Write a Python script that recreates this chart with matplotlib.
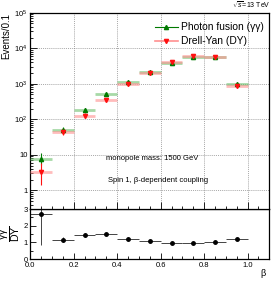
import numpy as np
import matplotlib
matplotlib.use("Agg")
import matplotlib.pyplot as plt
from matplotlib.ticker import FixedLocator, MultipleLocator, NullFormatter
from matplotlib.lines import Line2D

plt.rcParams['font.family'] = ['Liberation Sans', 'DejaVu Sans']
plt.rcParams['mathtext.fontset'] = 'custom'
plt.rcParams['mathtext.rm'] = 'Liberation Sans'
plt.rcParams['mathtext.it'] = 'Liberation Sans:italic'

beta = [0.05, 0.15, 0.25, 0.35, 0.45, 0.55, 0.65, 0.75, 0.85, 0.95]
gg = [7.9, 49, 180, 500, 1100, 2200, 3940, 5600, 5500, 1000]
gg_lo = [2.8, 9, 20, 40, 60, 90, 120, 150, 150, 60]
gg_hi = [3.3, 12, 24, 45, 65, 95, 125, 160, 160, 65]
dy = [3.2, 44, 128, 350, 960, 2000, 4000, 6000, 5500, 850]
dy_lo = [1.8, 8, 16, 32, 55, 80, 120, 150, 150, 55]
dy_hi = [2.6, 10, 19, 36, 60, 85, 125, 160, 160, 60]
ratio = [2.73, 1.16, 1.45, 1.51, 1.2, 1.10, 0.98, 0.94, 1.0, 1.18]
ratio_err = [1.9, 0.15, 0.1, 0.08, 0.06, 0.05, 0.04, 0.04, 0.04, 0.06]
half_width = 0.05

W, H = 274, 282
fig = plt.figure(figsize=(W/100, H/100), dpi=100)
L, R = 30.3/W, 269.3/W
axr = fig.add_axes([L, 1-259/H, R-L, (259-209)/H])
ax = fig.add_axes([L, 1-209/H, R-L, (209-12.7)/H])

gcol, gband = '#007a00', '#6cc06c'
rcol, rband = '#ff1010', '#ff9090'

# main panel
for y, lo, hi, col, band, mk in [(gg, gg_lo, gg_hi, gcol, gband, '^'),
                                  (dy, dy_lo, dy_hi, rcol, rband, 'v')]:
    ax.errorbar(beta, y, xerr=half_width, fmt='none', ecolor=band, elinewidth=2.0,
                alpha=0.6, capsize=0, zorder=3)
    ax.errorbar(beta, y, yerr=[lo, hi], fmt=mk, color=col, ms=3, elinewidth=0.8,
                capsize=0, zorder=4)

ax.set_yscale('log')
ax.set_xlim(0, 1.1)
ax.set_ylim(0.3, 1e5)
ax.yaxis.set_major_locator(FixedLocator([1, 10, 100, 1e3, 1e4, 1e5]))
ax.set_yticklabels(['1', '10', r'$10^2$', r'$10^3$', r'$10^4$', r'$10^5$'])
ax.yaxis.set_minor_locator(FixedLocator([m*10**e for e in range(-1, 5) for m in range(2, 10)]))
ax.yaxis.set_minor_formatter(NullFormatter())
ax.xaxis.set_major_locator(MultipleLocator(0.2))
ax.xaxis.set_minor_locator(MultipleLocator(0.05))
ax.tick_params(axis='both', which='both', direction='in', labelsize=5.5, width=0.6, pad=2)
ax.tick_params(which='major', length=5)
ax.tick_params(which='minor', length=2.5)
ax.tick_params(axis='x', labelbottom=False)
ax.grid(True, which='major', linestyle=(0, (1.5, 1.5)), color='#888888', linewidth=0.5)
ax.set_axisbelow(True)
ax.set_ylabel('Events/0.1', fontsize=7, loc='top', labelpad=2)
for s in ax.spines.values():
    s.set_linewidth(0.9)

# legend
h1 = Line2D([], [], color=gcol, marker='^', ms=3, lw=0.8)
h2 = Line2D([], [], color=rband, marker='v', ms=3, mfc=rcol, mec=rcol, lw=1.2)
leg = ax.legend([h1, h2], ['Photon fusion (γγ)', 'Drell-Yan (DY)'], loc='upper left',
                bbox_to_anchor=((151-30.3)/239, 1-(18-12.7)/196.3), frameon=False,
                fontsize=7.4, handlelength=2.2, handletextpad=0.3, labelspacing=0.4,
                borderaxespad=0)

ax.text((106-30.3)/239, 1-(158-12.7)/196.3, 'monopole mass: 1500 GeV',
        transform=ax.transAxes, fontsize=5.5, va='center', ha='left')
ax.text((108-30.3)/239, 1-(180-12.7)/196.3, 'Spin 1, β-dependent coupling',
        transform=ax.transAxes, fontsize=5.5, va='center', ha='left')
fig.text(271/W, 1-5/H, r'$\sqrt{s}$=13 TeV', fontsize=5, ha='right', va='center')

# ratio panel
axr.errorbar(beta, ratio, xerr=half_width, yerr=ratio_err, fmt='o', color='black',
             ecolor='#444444', ms=2.5, elinewidth=0.7, capsize=0)
axr.set_xlim(0, 1.1)
axr.set_ylim(0, 3)
axr.yaxis.set_major_locator(FixedLocator([0, 1, 2, 3]))
axr.yaxis.set_minor_locator(MultipleLocator(0.5))
axr.xaxis.set_major_locator(MultipleLocator(0.2))
axr.xaxis.set_minor_locator(MultipleLocator(0.05))
axr.tick_params(axis='both', which='both', direction='in', labelsize=5.5, width=0.6, pad=2)
axr.tick_params(which='major', length=4)
axr.tick_params(which='minor', length=2)
axr.set_ylabel(r'$\frac{\mathrm{\gamma\gamma}}{\mathrm{DY}}$', fontsize=11, labelpad=0)
for s in axr.spines.values():
    s.set_linewidth(0.9)
fig.text(263/W, 1-273/H, 'β', fontsize=6.5, ha='center', va='center')

fig.savefig('out.png', dpi=100)
